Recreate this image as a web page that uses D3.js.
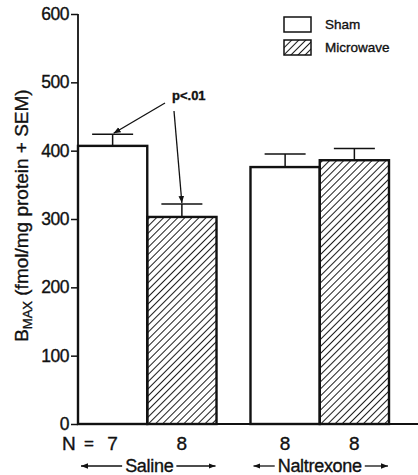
<!DOCTYPE html>
<html>
<head>
<meta charset="utf-8">
<script src="https://cdn.jsdelivr.net/npm/d3@7"></script>
<style>
  body { margin: 0; background: #fff; }
  text { font-family: "Liberation Sans", Arial, sans-serif; fill: #111; stroke: #111; stroke-width: 0.35px; }
</style>
</head>
<body>
<div id="chart"></div>
<script>
"use strict";

var groups = ["Saline", "Naltrexone"];
var series = ["Sham", "Microwave"];
var means = [[407, 303], [376, 386]];
var sems = [[17, 19], [19, 17]];
var counts = [[7, 8], [8, 8]];
var yTicks = [0, 100, 200, 300, 400, 500, 600];

var width = 418, height = 475;

var svg = d3.select("#chart").append("svg")
  .attr("width", width)
  .attr("height", height);

var defs = svg.append("defs");
defs.append("pattern")
  .attr("id", "hatch")
  .attr("patternUnits", "userSpaceOnUse")
  .attr("width", 5)
  .attr("height", 5)
  .attr("patternTransform", "rotate(45)")
  .append("line")
  .attr("x1", 0).attr("y1", 0)
  .attr("x2", 0).attr("y2", 5)
  .attr("stroke", "#111")
  .attr("stroke-width", 1.9);

defs.append("marker")
  .attr("id", "arrow")
  .attr("viewBox", "0 0 10 10")
  .attr("refX", 10).attr("refY", 5)
  .attr("markerWidth", 7).attr("markerHeight", 7)
  .attr("markerUnits", "userSpaceOnUse")
  .attr("orient", "auto")
  .append("path")
  .attr("d", "M0,1 L10,5 L0,9 Z")
  .attr("fill", "#111");

var y = d3.scaleLinear().domain([0, 600]).range([424, 14]);

var x0 = d3.scaleBand()
  .domain(groups)
  .range([78, 389])
  .paddingInner(0.197)
  .paddingOuter(0);

var x1 = d3.scaleBand()
  .domain(series)
  .range([0, x0.bandwidth()]);

// y axis
var yAxis = svg.append("g")
  .attr("transform", "translate(78,0)")
  .call(d3.axisLeft(y).tickValues(yTicks).tickSize(7).tickPadding(2));
yAxis.select(".domain").attr("stroke", "#111").attr("stroke-width", 1.8)
  .attr("d", "M0," + y(600) + "V" + y(0));
yAxis.selectAll(".tick line").attr("stroke", "#111").attr("stroke-width", 1.5);
yAxis.selectAll(".tick text")
  .style("font-family", "'Liberation Sans', Arial, sans-serif")
  .style("font-size", "17.5px")
  .style("letter-spacing", "-0.5px")
  .attr("fill", "#111");

// bars
var rows = [];
groups.forEach(function(g, gi) {
  series.forEach(function(s, si) {
    rows.push({ group: g, series: s, mean: means[gi][si], sem: sems[gi][si], n: counts[gi][si] });
  });
});

var bar = svg.append("g").selectAll("g")
  .data(rows)
  .join("g")
  .attr("transform", function(d) { return "translate(" + (x0(d.group) + x1(d.series)) + ",0)"; });

var cap = 41;
bar.append("line")
  .attr("x1", x1.bandwidth() / 2).attr("x2", x1.bandwidth() / 2)
  .attr("y1", function(d) { return y(d.mean); })
  .attr("y2", function(d) { return y(d.mean + d.sem); })
  .attr("stroke", "#111").attr("stroke-width", 1.5);
bar.append("line")
  .attr("x1", x1.bandwidth() / 2 - cap / 2).attr("x2", x1.bandwidth() / 2 + cap / 2)
  .attr("y1", function(d) { return y(d.mean + d.sem); })
  .attr("y2", function(d) { return y(d.mean + d.sem); })
  .attr("stroke", "#111").attr("stroke-width", 1.5);

bar.append("rect")
  .attr("x", 0)
  .attr("y", function(d) { return y(d.mean); })
  .attr("width", x1.bandwidth())
  .attr("height", function(d) { return y(0) - y(d.mean); })
  .attr("fill", function(d) { return d.series === "Sham" ? "#fff" : "url(#hatch)"; })
  .attr("stroke", "#111")
  .attr("stroke-width", 2.4);

// x baseline
svg.append("line")
  .attr("x1", 78).attr("x2", width)
  .attr("y1", y(0)).attr("y2", y(0))
  .attr("stroke", "#111").attr("stroke-width", 2);

// N labels
bar.append("text")
  .attr("x", x1.bandwidth() / 2)
  .attr("y", 450)
  .attr("text-anchor", "middle")
  .style("font-size", "19px")
  .text(function(d) { return d.n; });
svg.append("text")
  .attr("x", 62).attr("y", 450)
  .style("font-size", "19px")
  .text("N");
svg.append("text")
  .attr("x", 89).attr("y", 449)
  .attr("text-anchor", "middle")
  .style("font-size", "17px")
  .text("=");

// group labels with arrows
var groupLabel = svg.append("g").selectAll("g")
  .data(groups)
  .join("g");
groupLabel.each(function(d) {
  var g = d3.select(this);
  var cx = x0(d) + x0.bandwidth() / 2 + (d === "Saline" ? 2 : 0);
  var t = g.append("text")
    .attr("x", cx)
    .attr("y", 472)
    .attr("text-anchor", "middle")
    .style("font-size", "18px")
    .style("letter-spacing", "-0.3px")
    .text(d);
  var tw = t.node().getComputedTextLength();
  var left = x0(d) + 3, right = x0(d) + x0.bandwidth() - 1;
  g.append("line")
    .attr("x1", cx - tw / 2 - 3).attr("x2", left)
    .attr("y1", 466).attr("y2", 466)
    .attr("stroke", "#111").attr("stroke-width", 1.3)
    .attr("marker-end", "url(#arrow)");
  g.append("line")
    .attr("x1", cx + tw / 2 + 3).attr("x2", right)
    .attr("y1", 466).attr("y2", 466)
    .attr("stroke", "#111").attr("stroke-width", 1.3)
    .attr("marker-end", "url(#arrow)");
});

// significance annotation
var a = rows[0], b = rows[1];
svg.append("text")
  .attr("x", 172).attr("y", 100)
  .style("font-size", "13px")
  .style("font-weight", "bold")
  .text("p<.01");
svg.append("line")
  .attr("x1", 165).attr("y1", 103)
  .attr("x2", x0(a.group) + x1(a.series) + x1.bandwidth() / 2 + 1)
  .attr("y2", y(a.mean + a.sem) - 1)
  .attr("stroke", "#111").attr("stroke-width", 1.3)
  .attr("marker-end", "url(#arrow)");
svg.append("line")
  .attr("x1", 174).attr("y1", 111)
  .attr("x2", x0(b.group) + x1(b.series) + x1.bandwidth() / 2)
  .attr("y2", y(b.mean + b.sem) - 1)
  .attr("stroke", "#111").attr("stroke-width", 1.3)
  .attr("marker-end", "url(#arrow)");

// legend
var legend = svg.append("g").selectAll("g")
  .data(series)
  .join("g")
  .attr("transform", function(d, i) { return "translate(284," + (17 + i * 23) + ")"; });
legend.append("rect")
  .attr("width", 27).attr("height", 15)
  .attr("fill", function(d) { return d === "Sham" ? "#fff" : "url(#hatch)"; })
  .attr("stroke", "#111").attr("stroke-width", 1.5);
legend.append("text")
  .attr("x", 41).attr("y", 12)
  .style("font-size", "13.5px")
  .text(function(d) { return d; });

// y axis title
var yTitle = svg.append("text")
  .attr("transform", "translate(28," + y(305) + ") rotate(-90)")
  .attr("text-anchor", "middle")
  .style("font-size", "19px");
yTitle.append("tspan").text("B");
yTitle.append("tspan").attr("dy", 4).style("font-size", "13px").text("MAX");
yTitle.append("tspan").attr("dy", -4).text(" (fmol/mg protein + SEM)");
</script>
</body>
</html>
